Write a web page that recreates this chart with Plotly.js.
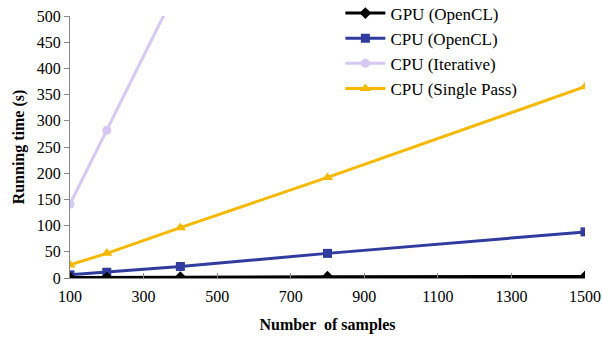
<!DOCTYPE html>
<html><head><meta charset="utf-8">
<script src="https://cdn.plot.ly/plotly-3.0.1.min.js"></script>
<style>body{margin:0;background:#fff}#c{width:602px;height:337px}</style>
</head><body><div id="c"></div>
<script>
const samples = [100, 200, 400, 800, 1500];
const gpuOpenCL = [1, 1, 1.5, 2.5, 3];
const cpuOpenCL = [6, 11, 22, 47, 88];
const cpuIterative = [141, 282, 565, 1130, 2120];
const cpuSinglePass = [25, 47, 96, 192, 365];
const names = ["GPU (OpenCL)", "CPU (OpenCL)", "CPU (Iterative)", "CPU (Single Pass)"];
const xTicks = [100, 300, 500, 700, 900, 1100, 1300, 1500];
const yTicks = [0, 50, 100, 150, 200, 250, 300, 350, 400, 450, 500];

const font = {family: "'Liberation Serif', 'Times New Roman', Times, serif", color: "#000"};
const traces = [
  {x: samples, y: cpuIterative, name: names[2], mode: "lines+markers",
   line: {color: "#D5C8F2", width: 3}, marker: {symbol: "circle", size: 9, color: "#D5C8F2"}},
  {x: samples, y: cpuSinglePass, name: names[3], mode: "lines+markers",
   line: {color: "#F7B900", width: 3}, marker: {symbol: "triangle-up", size: 10, color: "#F7B900"}},
  {x: samples, y: cpuOpenCL, name: names[1], mode: "lines+markers",
   line: {color: "#2F3C9E", width: 3}, marker: {symbol: "square", size: 9, color: "#2F3C9E"}},
  {x: samples, y: gpuOpenCL, name: names[0], mode: "lines+markers",
   line: {color: "#000000", width: 3}, marker: {symbol: "diamond", size: 9, color: "#000000"}}
];
traces[3].legendrank = 1; traces[2].legendrank = 2; traces[0].legendrank = 3; traces[1].legendrank = 4;

const layout = {
  width: 602, height: 337,
  margin: {l: 70, r: 17, t: 16, b: 59, autoexpand: false},
  paper_bgcolor: "#fff", plot_bgcolor: "#fff",
  font: Object.assign({size: 16}, font),
  showlegend: true,
  legend: {x: 0.525, y: 1.078, xanchor: "left", yanchor: "top", bgcolor: "rgba(255,255,255,0)",
           font: Object.assign({size: 17}, font), tracegroupgap: 0, itemwidth: 40},
  xaxis: {range: [100, 1500], tickvals: xTicks, ticktext: xTicks.map(String),
          showgrid: false, zeroline: false, showline: true, linecolor: "#888", linewidth: 1,
          ticks: "inside", ticklen: 5, tickcolor: "#888", ticklabelstandoff: 4,
          tickfont: Object.assign({size: 16}, font),
          title: {text: "<b>Number  of samples</b>", font: Object.assign({size: 16}, font), standoff: 14}},
  yaxis: {range: [0, 500], tickvals: yTicks, ticktext: yTicks.map(String),
          showgrid: false, zeroline: false, showline: true, linecolor: "#888", linewidth: 1,
          ticks: "outside", ticklen: 5, tickcolor: "#888",
          tickfont: Object.assign({size: 16}, font),
          title: {text: "<b>Running time (s)</b>", font: Object.assign({size: 16}, font), standoff: 8}}
};
Plotly.newPlot("c", traces, layout, {displayModeBar: false, staticPlot: true});
</script></body></html>
